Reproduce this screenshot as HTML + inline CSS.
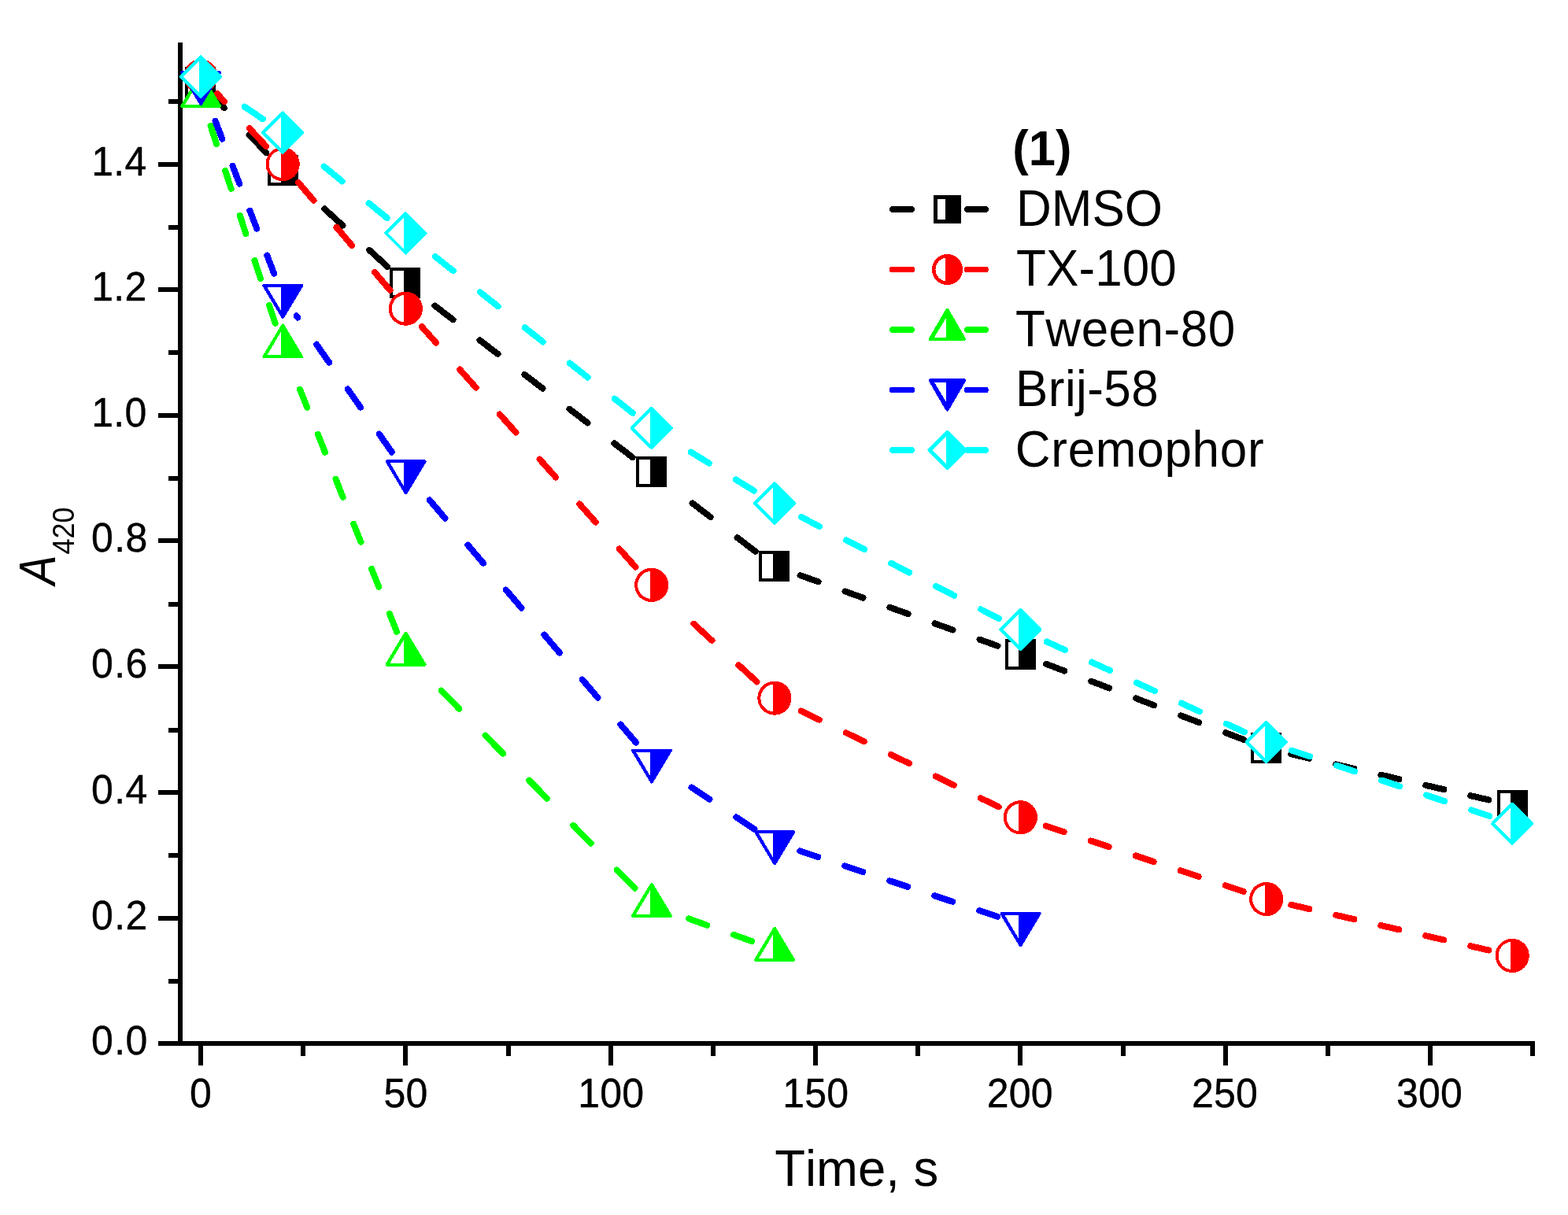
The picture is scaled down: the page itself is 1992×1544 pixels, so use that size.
<!DOCTYPE html>
<html lang="en">
<head>
<meta charset="utf-8">
<title>A420 vs Time</title>
<style>
html,body{margin:0;padding:0;background:#fff;}
body{width:1992px;height:1544px;overflow:hidden;}
svg{display:block;}
text{font-family:"Liberation Sans",Arial,Helvetica,sans-serif;fill:#000;font-kerning:none;font-variant-ligatures:none;}
.ax{stroke:#000;stroke-width:6;stroke-linecap:butt;fill:none;}
.ln{fill:none;stroke-width:8;stroke-linecap:round;stroke-linejoin:round;}
.tl{font-size:50px;stroke:#000;stroke-width:0.4px;letter-spacing:0.2px;}
.lg{font-size:62px;}
</style>
</head>
<body>
<svg width="1992" height="1544" viewBox="0 0 1992 1544">
<rect width="1992" height="1544" fill="#fff"/>
<g class="ax" shape-rendering="crispEdges">
<path d="M229 54V1329"/>
<path d="M201 1326H1950"/>
<path d="M214 1247H229"/>
<path d="M201 1167H229"/>
<path d="M214 1087H229"/>
<path d="M201 1007H229"/>
<path d="M214 928H229"/>
<path d="M201 847H229"/>
<path d="M214 768H229"/>
<path d="M201 687H229"/>
<path d="M214 608H229"/>
<path d="M201 528H229"/>
<path d="M214 448H229"/>
<path d="M201 368H229"/>
<path d="M214 289H229"/>
<path d="M201 209H229"/>
<path d="M214 129H229"/>
<path d="M255 1326V1354"/>
<path d="M385 1326V1342"/>
<path d="M515 1326V1354"/>
<path d="M646 1326V1342"/>
<path d="M776 1326V1354"/>
<path d="M906 1326V1342"/>
<path d="M1036 1326V1354"/>
<path d="M1166 1326V1342"/>
<path d="M1296 1326V1354"/>
<path d="M1427 1326V1342"/>
<path d="M1557 1326V1354"/>
<path d="M1687 1326V1342"/>
<path d="M1817 1326V1354"/>
<path d="M1947 1326V1342"/>
</g>
<g>
<text class="tl" transform="translate(187.4 1339.7) scale(1 1.02)" text-anchor="end">0<tspan dx="1.3">.0</tspan></text>
<text class="tl" transform="translate(187.4 1180.7) scale(1 1.02)" text-anchor="end">0<tspan dx="1.3">.2</tspan></text>
<text class="tl" transform="translate(187.4 1020.7) scale(1 1.02)" text-anchor="end">0<tspan dx="1.3">.4</tspan></text>
<text class="tl" transform="translate(187.4 860.7) scale(1 1.02)" text-anchor="end">0<tspan dx="1.3">.6</tspan></text>
<text class="tl" transform="translate(187.4 700.7) scale(1 1.02)" text-anchor="end">0<tspan dx="1.3">.8</tspan></text>
<text class="tl" transform="translate(186.4 541.7) scale(1 1.02)" text-anchor="end">1.0</text>
<text class="tl" transform="translate(186.4 381.7) scale(1 1.02)" text-anchor="end">1.2</text>
<text class="tl" transform="translate(186.4 222.7) scale(1 1.02)" text-anchor="end">1.4</text>
<text class="tl" transform="translate(255 1407.3) scale(1 1.02)" text-anchor="middle">0</text>
<text class="tl" transform="translate(515.4 1407.3) scale(1 1.02)" text-anchor="middle">50</text>
<text class="tl" transform="translate(776.3 1407.3) scale(1 1.02)" text-anchor="middle">100</text>
<text class="tl" transform="translate(1036.2 1407.3) scale(1 1.02)" text-anchor="middle">150</text>
<text class="tl" transform="translate(1295.8 1407.3) scale(1 1.02)" text-anchor="middle">200</text>
<text class="tl" transform="translate(1556.1 1407.3) scale(1 1.02)" text-anchor="middle">250</text>
<text class="tl" transform="translate(1816.1 1407.3) scale(1 1.02)" text-anchor="middle">300</text>
</g>
<text class="tt" transform="translate(1088.2 1507.2) scale(1 1.02)" text-anchor="middle" style="font-size:63.5px">Time, s</text>
<text transform="translate(69.9 743.2) rotate(-90) scale(1 1.156)" style="font-size:56.7px" font-style="italic">A</text>
<text transform="translate(93.9 704.4) rotate(-90) scale(1 1.08)" style="font-size:35.9px">420</text>
<g shape-rendering="crispEdges"><path class="ln" d="M316.66 171.18L338.21 194.18M275.32 127.08L284.79 137.18M469.31 317.84L492.31 338.99M412.31 265.42L435.31 286.57M780.46 563.43L803.46 581.07M723.46 519.72L746.46 537.36M666.46 476L689.46 493.64M609.46 432.28L632.46 449.92M552.46 388.56L575.46 406.2M936.65 683.19L959.65 700.82M879.65 639.5L902.65 657.13M1244.53 812.67L1267.53 820.9M1187.53 792.28L1210.53 800.5M1130.53 771.88L1153.53 780.11M1073.53 751.49L1096.53 759.72M1016.53 731.1L1039.53 739.33M1557.17 931.18L1580.17 940M1500.17 909.33L1523.17 918.15M1443.17 887.48L1466.17 896.3M1386.17 865.64L1409.17 874.45M1329.17 843.79L1352.17 852.6M1868.34 1011.15L1891.34 1016.48M1811.34 997.93L1834.34 1003.26M1754.34 984.71L1777.34 990.05M1697.34 971.49L1720.34 976.83M1640.34 958.28L1663.34 963.61" stroke="#000000"/>
<rect x="234.9" y="85.25" width="39" height="39" fill="#000000"/>
<rect x="238.9" y="89.25" width="13.3" height="31" fill="#fff"/>
<rect x="339.63" y="197.01" width="39" height="39" fill="#000000"/>
<rect x="343.63" y="201.01" width="13.3" height="31" fill="#fff"/>
<rect x="495.34" y="340.21" width="39" height="39" fill="#000000"/>
<rect x="499.34" y="344.21" width="13.3" height="31" fill="#fff"/>
<rect x="808.24" y="580.2" width="39" height="39" fill="#000000"/>
<rect x="812.24" y="584.2" width="13.3" height="31" fill="#fff"/>
<rect x="964.44" y="699.94" width="39" height="39" fill="#000000"/>
<rect x="968.44" y="703.94" width="13.3" height="31" fill="#fff"/>
<rect x="1276.84" y="811.7" width="39" height="39" fill="#000000"/>
<rect x="1280.84" y="815.7" width="13.3" height="31" fill="#fff"/>
<rect x="1589.24" y="931.45" width="39" height="39" fill="#000000"/>
<rect x="1593.24" y="935.45" width="13.3" height="31" fill="#fff"/>
<rect x="1901.64" y="1003.9" width="39" height="39" fill="#000000"/>
<rect x="1905.64" y="1007.9" width="13.3" height="31" fill="#fff"/>
</g>
<g shape-rendering="crispEdges"><path class="ln" d="M316.84 163.14L338.27 186.14M275.86 119.16L285.16 129.14M475.94 345.83L495.51 368.83M427.45 288.83L447.02 311.83M378.96 231.84L398.52 254.83M786.94 697.53L807.4 720.53M736.25 640.53L756.71 663.53M685.55 583.53L706.01 606.53M634.86 526.53L655.31 549.53M584.16 469.53L604.62 492.53M535.67 415L553.92 435.53M938.42 845.21L961.42 866.37M881.42 792.77L904.42 813.93M1245.81 1014.23L1268.81 1025.4M1188.81 986.56L1211.81 997.72M1131.81 958.88L1154.81 970.05M1074.81 931.21L1097.81 942.37M1017.81 903.53L1040.81 914.7M1556.7 1125.25L1579.7 1132.89M1499.7 1106.32L1522.7 1113.96M1442.7 1087.38L1465.7 1095.02M1385.7 1068.45L1408.7 1076.09M1328.7 1049.51L1351.7 1057.15M1868.32 1202.24L1891.32 1207.53M1811.32 1189.13L1834.32 1194.42M1754.32 1176.02L1777.32 1181.31M1697.32 1162.91L1720.32 1168.2M1640.32 1149.8L1663.32 1155.09" stroke="#ff0000"/>
<circle cx="255" cy="96.77" r="21.6" fill="#ff0000"/>
<path d="M252.8 79.31A17.6 17.6 0 0 0 252.8 114.23Z" fill="#fff"/>
<circle cx="359.13" cy="208.53" r="21.6" fill="#ff0000"/>
<path d="M356.93 191.07A17.6 17.6 0 0 0 356.93 225.99Z" fill="#fff"/>
<circle cx="515.34" cy="392.14" r="21.6" fill="#ff0000"/>
<path d="M513.13 374.68A17.6 17.6 0 0 0 513.13 409.6Z" fill="#fff"/>
<circle cx="827.74" cy="743.39" r="21.6" fill="#ff0000"/>
<path d="M825.54 725.93A17.6 17.6 0 0 0 825.54 760.85Z" fill="#fff"/>
<circle cx="983.94" cy="887.09" r="21.6" fill="#ff0000"/>
<path d="M981.74 869.62A17.6 17.6 0 0 0 981.74 904.55Z" fill="#fff"/>
<circle cx="1296.34" cy="1038.76" r="21.6" fill="#ff0000"/>
<path d="M1294.14 1021.3A17.6 17.6 0 0 0 1294.14 1056.22Z" fill="#fff"/>
<circle cx="1608.74" cy="1142.54" r="21.6" fill="#ff0000"/>
<path d="M1606.54 1125.08A17.6 17.6 0 0 0 1606.54 1160Z" fill="#fff"/>
<circle cx="1921.14" cy="1214.39" r="21.6" fill="#ff0000"/>
<path d="M1918.94 1196.93A17.6 17.6 0 0 0 1918.94 1231.85Z" fill="#fff"/>
</g>
<g shape-rendering="crispEdges"><path class="ln" d="M342.11 387.95L349.63 410.95M323.47 330.95L330.99 353.95M304.84 273.95L312.36 296.95M286.2 216.95L293.72 239.95M267.57 159.95L275.08 182.95M494.8 779.79L503.99 802.79M472.04 722.79L481.23 745.79M449.28 665.79L458.46 688.79M426.52 608.79L435.7 631.79M403.76 551.79L412.94 574.79M381 494.79L390.18 517.79M783.84 1105.65L806.34 1128.65M728.07 1048.65L750.57 1071.65M672.31 991.65L694.81 1014.65M616.54 934.65L639.04 957.65M560.78 877.65L583.28 900.65M932.13 1187.87L955.13 1196.1M875.13 1167.48L898.13 1175.71" stroke="#00ff00"/>
<path d="M231.2 134.92L255.2 94.92L279.2 134.92Z" fill="#00ff00" stroke="#00ff00" stroke-width="4" stroke-linejoin="round"/>
<path d="M235.2 132.82L253.05 132.82L253.05 102.72Z" fill="#fff"/>
<path d="M335.33 453.44L359.33 413.44L383.33 453.44Z" fill="#00ff00" stroke="#00ff00" stroke-width="4" stroke-linejoin="round"/>
<path d="M339.33 451.34L357.18 451.34L357.18 421.24Z" fill="#fff"/>
<path d="M491.54 844.6L515.54 804.6L539.54 844.6Z" fill="#00ff00" stroke="#00ff00" stroke-width="4" stroke-linejoin="round"/>
<path d="M495.54 842.5L513.39 842.5L513.39 812.4Z" fill="#fff"/>
<path d="M803.94 1163.92L827.94 1123.92L851.94 1163.92Z" fill="#00ff00" stroke="#00ff00" stroke-width="4" stroke-linejoin="round"/>
<path d="M807.94 1161.82L825.79 1161.82L825.79 1131.72Z" fill="#fff"/>
<path d="M960.14 1219.81L984.14 1179.81L1008.14 1219.81Z" fill="#00ff00" stroke="#00ff00" stroke-width="4" stroke-linejoin="round"/>
<path d="M964.14 1217.71L981.99 1217.71L981.99 1187.61Z" fill="#fff"/>
</g>
<g shape-rendering="crispEdges"><path class="ln" d="M339.3 324.61L348.15 347.61M317.38 267.61L326.22 290.61M295.45 210.61L304.3 233.61M273.53 153.61L282.37 176.61M481.73 551.61L497.81 574.61M441.9 494.61L457.97 517.61M402.07 437.61L418.14 460.61M376.66 401.26L378.31 403.61M788.34 920.61L807.91 943.61M739.85 863.61L759.42 886.61M691.36 806.61L710.93 829.61M642.87 749.61L662.43 772.61M594.38 692.61L613.94 715.61M545.89 635.61L565.45 658.61M935.45 1038.48L958.45 1053.76M878.45 1000.61L901.45 1015.89M1244.3 1157.19L1267.3 1164.83M1187.3 1138.25L1210.3 1145.89M1130.3 1119.32L1153.3 1126.96M1073.3 1100.38L1096.3 1108.02M1016.3 1081.44L1039.3 1089.09" stroke="#0000ff"/>
<path d="M231.2 92.05L255.2 132.05L279.2 92.05Z" fill="#0000ff" stroke="#0000ff" stroke-width="4" stroke-linejoin="round"/>
<path d="M235.2 94.15L253.05 94.15L253.05 124.25Z" fill="#fff"/>
<path d="M335.33 362.77L359.33 402.77L383.33 362.77Z" fill="#0000ff" stroke="#0000ff" stroke-width="4" stroke-linejoin="round"/>
<path d="M339.33 364.87L357.18 364.87L357.18 394.97Z" fill="#fff"/>
<path d="M491.54 586.3L515.54 626.3L539.54 586.3Z" fill="#0000ff" stroke="#0000ff" stroke-width="4" stroke-linejoin="round"/>
<path d="M495.54 588.4L513.39 588.4L513.39 618.5Z" fill="#fff"/>
<path d="M803.94 953.52L827.94 993.52L851.94 953.52Z" fill="#0000ff" stroke="#0000ff" stroke-width="4" stroke-linejoin="round"/>
<path d="M807.94 955.62L825.79 955.62L825.79 985.72Z" fill="#fff"/>
<path d="M960.14 1057.29L984.14 1097.29L1008.14 1057.29Z" fill="#0000ff" stroke="#0000ff" stroke-width="4" stroke-linejoin="round"/>
<path d="M964.14 1059.39L981.99 1059.39L981.99 1089.49Z" fill="#fff"/>
<path d="M1272.54 1161.07L1296.54 1201.07L1320.54 1161.07Z" fill="#0000ff" stroke="#0000ff" stroke-width="4" stroke-linejoin="round"/>
<path d="M1276.54 1163.17L1294.39 1163.17L1294.39 1193.27Z" fill="#fff"/>
</g>
<g shape-rendering="crispEdges"><path class="ln" d="M310.87 135.64L333.87 151.35M468.65 258.17L491.65 276.97M411.65 211.56L434.65 230.36M780.75 506.6L803.75 524.82M723.75 461.44L746.75 479.66M666.75 416.29L689.75 434.51M609.75 371.14L632.75 389.36M552.75 325.98L575.75 344.2M934.85 609.51L957.85 623.61M877.85 574.55L900.85 588.66M1246.12 774.28L1269.12 786.09M1189.12 745L1212.12 756.81M1132.12 715.72L1155.12 727.54M1075.12 686.45L1098.12 698.26M1018.12 657.17L1041.12 668.98M1557.91 919.72L1580.91 930.24M1500.91 893.65L1523.91 904.17M1443.91 867.57L1466.91 878.09M1386.91 841.5L1409.91 852.02M1329.91 815.43L1352.91 825.95M1869.1 1029.46L1892.1 1037.1M1812.1 1010.52L1835.1 1018.16M1755.1 991.59L1778.1 999.23M1698.1 972.65L1721.1 980.29M1641.1 953.72L1664.1 961.36" stroke="#00ffff"/>
<path d="M229.9 97.47L255 72.37L280.1 97.47L255 122.57Z" fill="#00ffff" stroke="#00ffff" stroke-width="4" stroke-linejoin="round"/>
<path d="M232.9 97.47L252.9 77.47L252.9 117.47Z" fill="#fff"/>
<path d="M334.03 168.62L359.13 143.52L384.23 168.62L359.13 193.72Z" fill="#00ffff" stroke="#00ffff" stroke-width="4" stroke-linejoin="round"/>
<path d="M337.03 168.62L357.03 148.62L357.03 188.62Z" fill="#fff"/>
<path d="M490.24 296.34L515.34 271.24L540.44 296.34L515.34 321.44Z" fill="#00ffff" stroke="#00ffff" stroke-width="4" stroke-linejoin="round"/>
<path d="M493.24 296.34L513.24 276.34L513.24 316.34Z" fill="#fff"/>
<path d="M802.64 543.82L827.74 518.72L852.84 543.82L827.74 568.92Z" fill="#00ffff" stroke="#00ffff" stroke-width="4" stroke-linejoin="round"/>
<path d="M805.64 543.82L825.64 523.82L825.64 563.82Z" fill="#fff"/>
<path d="M958.84 639.61L983.94 614.51L1009.04 639.61L983.94 664.71Z" fill="#00ffff" stroke="#00ffff" stroke-width="4" stroke-linejoin="round"/>
<path d="M961.84 639.61L981.84 619.61L981.84 659.61Z" fill="#fff"/>
<path d="M1271.24 800.07L1296.34 774.97L1321.44 800.07L1296.34 825.17Z" fill="#00ffff" stroke="#00ffff" stroke-width="4" stroke-linejoin="round"/>
<path d="M1274.24 800.07L1294.24 780.07L1294.24 820.07Z" fill="#fff"/>
<path d="M1583.64 942.97L1608.74 917.87L1633.84 942.97L1608.74 968.07Z" fill="#00ffff" stroke="#00ffff" stroke-width="4" stroke-linejoin="round"/>
<path d="M1586.64 942.97L1606.64 922.97L1606.64 962.97Z" fill="#fff"/>
<path d="M1896.04 1046.75L1921.14 1021.65L1946.24 1046.75L1921.14 1071.85Z" fill="#00ffff" stroke="#00ffff" stroke-width="4" stroke-linejoin="round"/>
<path d="M1899.04 1046.75L1919.04 1026.75L1919.04 1066.75Z" fill="#fff"/>
</g>
<text class="lg" transform="translate(1286.3 209.6) scale(1 1.01)" text-anchor="start" font-weight="bold" style="font-size:61.5px">(1)</text>
<g shape-rendering="crispEdges"><path d="M1133.8 266H1158.3M1228.8 266H1252.2" stroke="#000000" stroke-width="7.5" stroke-linecap="round" fill="none"/>
<rect x="1185.75" y="248.25" width="35.5" height="35.5" fill="#000000"/>
<rect x="1190.9" y="252.9" width="10.1" height="26.1" fill="#fff"/>
</g>
<text class="lg" transform="translate(1291 286.5) scale(1 1.045)" text-anchor="start">DMSO</text>
<g shape-rendering="crispEdges"><path d="M1133.8 342.5H1158.3M1228.8 342.5H1252.2" stroke="#ff0000" stroke-width="7.5" stroke-linecap="round" fill="none"/>
<circle cx="1203.5" cy="342.5" r="19.65" fill="#ff0000"/>
<path d="M1201 327.71A15 15 0 0 0 1201 357.29Z" fill="#fff"/>
</g>
<text class="lg" transform="translate(1291 363) scale(1 1.045)" text-anchor="start" letter-spacing="0.1">TX-100</text>
<g shape-rendering="crispEdges"><path d="M1133.8 419H1158.3M1228.8 419H1252.2" stroke="#00ff00" stroke-width="7.5" stroke-linecap="round" fill="none"/>
<path d="M1182 431L1203.4 394.2L1224.8 431Z" fill="#00ff00" stroke="#00ff00" stroke-width="4.4" stroke-linejoin="round"/>
<path d="M1186.9 428.8L1202 428.8L1202 403.8Z" fill="#fff"/>
</g>
<text class="lg" transform="translate(1290 439.5) scale(1 1.045)" text-anchor="start" letter-spacing="0.5">Tween-80</text>
<g shape-rendering="crispEdges"><path d="M1133.8 495.5H1158.3M1228.8 495.5H1252.2" stroke="#0000ff" stroke-width="7.5" stroke-linecap="round" fill="none"/>
<path d="M1182 483.5L1203.4 520.3L1224.8 483.5Z" fill="#0000ff" stroke="#0000ff" stroke-width="4.4" stroke-linejoin="round"/>
<path d="M1186.9 485.7L1202 485.7L1202 510.7Z" fill="#fff"/>
</g>
<text class="lg" transform="translate(1290.1 516) scale(1 1.045)" text-anchor="start" letter-spacing="0.4">Brij-58</text>
<g shape-rendering="crispEdges"><path d="M1133.8 572H1158.3M1228.8 572H1252.2" stroke="#00ffff" stroke-width="7.5" stroke-linecap="round" fill="none"/>
<path d="M1180.6 572L1203.5 549.1L1226.4 572L1203.5 594.9Z" fill="#00ffff" stroke="#00ffff" stroke-width="4.4" stroke-linejoin="round"/>
<path d="M1184.8 572L1202 554.9L1202 589.1Z" fill="#fff"/>
</g>
<text class="lg" transform="translate(1289.8 592.5) scale(1 1.045)" text-anchor="start" letter-spacing="0.72">Cremophor</text>
</svg>
</body>
</html>
